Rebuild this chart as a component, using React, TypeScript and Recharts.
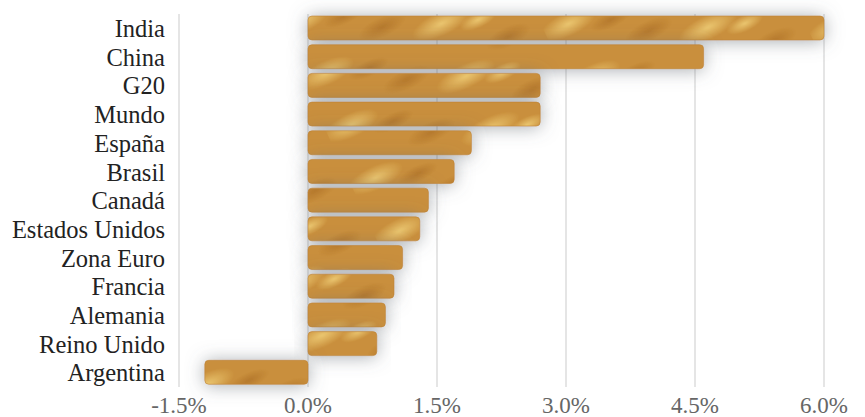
import React from 'react';
import { BarChart, Bar, XAxis, YAxis, CartesianGrid } from 'recharts';

const countries = [
  'India', 'China', 'G20', 'Mundo', 'España', 'Brasil', 'Canadá',
  'Estados Unidos', 'Zona Euro', 'Francia', 'Alemania', 'Reino Unido', 'Argentina',
];
const growth = [6.0, 4.6, 2.7, 2.7, 1.9, 1.7, 1.4, 1.3, 1.1, 1.0, 0.9, 0.8, -1.2];
const xTicks = [-1.5, 0, 1.5, 3.0, 4.5, 6.0];

const chartData = countries.map((name, i) => ({ name, value: growth[i] }));

const FONT = '"Liberation Serif", "DejaVu Serif", serif';

// soft blobs for the brushed gold look
const blobs = [
  { cx: 25, cy: 30, rx: 30, ry: 12, c: 'light' },
  { cx: 95, cy: 12, rx: 26, ry: 10, c: 'dark' },
  { cx: 150, cy: 34, rx: 32, ry: 12, c: 'light' },
  { cx: 205, cy: 16, rx: 24, ry: 10, c: 'dark' },
  { cx: 65, cy: 44, rx: 22, ry: 8, c: 'dark' },
  { cx: 185, cy: 46, rx: 20, ry: 8, c: 'light' },
];

const App: React.FC = () => {
  return (
    <div style={{ position: 'absolute', left: 0, top: 0, background: '#fff' }}>
      <BarChart
        width={865}
        height={417}
        data={chartData}
        layout="vertical"
        margin={{ top: 14, right: 41, bottom: 0, left: 0 }}
      >
        <defs>
          <radialGradient id="gLight">
            <stop offset="0%" stopColor="#f0cf78" stopOpacity="0.85" />
            <stop offset="100%" stopColor="#f0cf78" stopOpacity="0" />
          </radialGradient>
          <radialGradient id="gDark">
            <stop offset="0%" stopColor="#a86a22" stopOpacity="0.6" />
            <stop offset="100%" stopColor="#a86a22" stopOpacity="0" />
          </radialGradient>
          <pattern id="goldTex" patternUnits="userSpaceOnUse" width="240" height="58" patternTransform="rotate(-25)">
            <rect width="240" height="58" fill="#c98f3c" />
            {blobs.map((b, i) => (
              <ellipse
                key={i}
                cx={b.cx}
                cy={b.cy}
                rx={b.rx}
                ry={b.ry}
                fill={b.c === 'light' ? 'url(#gLight)' : 'url(#gDark)'}
              />
            ))}
          </pattern>
          <filter id="barShadow" x="-20%" y="-100%" width="140%" height="300%">
            <feDropShadow dx="0" dy="1" stdDeviation="9" floodColor="#5f666e" floodOpacity="0.55" />
          </filter>
        </defs>
        <CartesianGrid horizontal={false} vertical stroke="#dcdcdc" strokeWidth={1.5} />
        <XAxis
          type="number"
          domain={[-1.5, 6]}
          ticks={xTicks}
          tickFormatter={(v) => `${Number(v).toFixed(1)}%`}
          axisLine={false}
          tickLine={false}
          tickSize={0}
          tickMargin={10}
          height={30}
          tick={{ fill: '#666', fontSize: 23, fontFamily: FONT }}
        />
        <YAxis
          type="category"
          dataKey="name"
          width={179}
          axisLine={false}
          tickLine={false}
          tickSize={0}
          tickMargin={14}
          interval={0}
          tick={{ fill: '#222', fontSize: 24.5, fontFamily: FONT }}
        />
        <Bar
          dataKey="value"
          barSize={24}
          fill="url(#goldTex)"
          stroke="#bd8335"
          strokeWidth={0.6}
          radius={4}
          filter="url(#barShadow)"
          isAnimationActive={false}
        />
      </BarChart>
    </div>
  );
};

export default App;
